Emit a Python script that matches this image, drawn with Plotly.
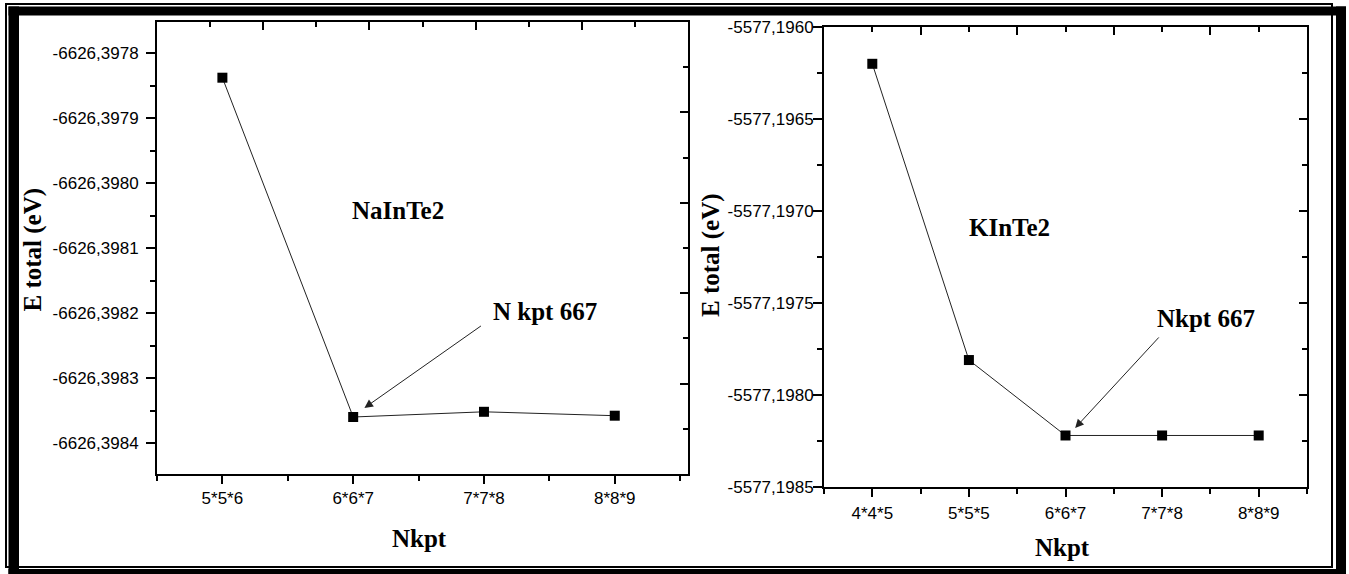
import plotly.graph_objects as go

W, H = 1349, 574

# ---------------- data ----------------
left_cats = ["5*5*6", "6*6*7", "7*7*8", "8*8*9"]
left_energy = [-6626.397838, -6626.398360, -6626.398352, -6626.398358]
left_ytick_labels = ["-6626,3978", "-6626,3979", "-6626,3980", "-6626,3981",
                     "-6626,3982", "-6626,3983", "-6626,3984"]

right_cats = ["4*4*5", "5*5*5", "6*6*7", "7*7*8", "8*8*9"]
right_energy = [-5577.196200, -5577.197810, -5577.198220, -5577.198220, -5577.198220]
right_ytick_labels = ["-5577,1960", "-5577,1965", "-5577,1970", "-5577,1975",
                      "-5577,1980", "-5577,1985"]


def px_x(p):
    return p / W


def px_y(p):
    return 1 - p / H


def vals(labels):
    return [float(s.replace(",", ".")) for s in labels]


def mids(v):
    return [(a + b) / 2 for a, b in zip(v[:-1], v[1:])]


TICKFONT = dict(family="Liberation Sans, Arial, sans-serif", size=17, color="#000")
TITLEFONT = dict(family="Liberation Serif, Times New Roman, serif", size=25, color="#000")
LINE = dict(showline=True, linecolor="#000", linewidth=2, mirror=True,
            showgrid=False, zeroline=False)

fig = go.Figure()

fig.add_trace(go.Scatter(
    x=list(range(len(left_cats))), y=left_energy, mode="lines+markers",
    line=dict(color="#222", width=1),
    marker=dict(symbol="square", size=10, color="#000"),
    xaxis="x", yaxis="y", showlegend=False, hoverinfo="skip"))
fig.add_trace(go.Scatter(
    x=list(range(len(right_cats))), y=right_energy, mode="lines+markers",
    line=dict(color="#222", width=1),
    marker=dict(symbol="square", size=10, color="#000"),
    xaxis="x2", yaxis="y2", showlegend=False, hoverinfo="skip"))
# empty traces to realise the overlay (top/right tick) axes
fig.add_trace(go.Scatter(x=[], y=[], xaxis="x3", yaxis="y3", showlegend=False, hoverinfo="skip"))
fig.add_trace(go.Scatter(x=[], y=[], xaxis="x4", yaxis="y4", showlegend=False, hoverinfo="skip"))

lv = vals(left_ytick_labels)
rv = vals(right_ytick_labels)

left_dom_x = [px_x(157), px_x(688)]
left_dom_y = [px_y(474), px_y(22)]
right_dom_x = [px_x(824), px_x(1307)]
right_dom_y = [px_y(487), px_y(27)]

overlay_common = dict(range=[0, 10], tickvals=[2, 4, 6, 8], ticks="inside", ticklen=8,
                      tickwidth=1.5, tickcolor="#000", showticklabels=False,
                      showgrid=False, zeroline=False, showline=False, fixedrange=True,
                      minor=dict(tickvals=[1, 3, 5, 7, 9], ticks="inside", ticklen=5,
                                 tickwidth=1.5, tickcolor="#000"))

fig.update_layout(
    width=W, height=H, template="none",
    margin=dict(l=0, r=0, t=0, b=0, pad=0),
    paper_bgcolor="white", plot_bgcolor="white",
    xaxis=dict(domain=left_dom_x, anchor="y", range=[-0.5, 3.56],
               tickvals=list(range(len(left_cats))), ticktext=left_cats,
               ticks="outside", ticklen=8, tickwidth=1.5, tickcolor="#000",
               tickfont=TICKFONT, automargin=False, ticklabelstandoff=0,
               minor=dict(tickvals=[i - 0.5 for i in range(len(left_cats) + 1)],
                          ticks="outside", ticklen=5, tickwidth=1.5, tickcolor="#000"),
               **LINE),
    yaxis=dict(domain=left_dom_y, anchor="x",
               range=[lv[-1] - 31 / 65 * 1e-4, lv[0] + 31 / 65 * 1e-4],
               tickvals=lv, ticktext=left_ytick_labels,
               ticks="outside", ticklen=9, tickwidth=1.5, tickcolor="#000",
               tickfont=TICKFONT, automargin=False, ticklabelstandoff=4,
               minor=dict(tickvals=mids(lv), ticks="outside", ticklen=5,
                          tickwidth=1.5, tickcolor="#000"),
               **LINE),
    xaxis2=dict(domain=right_dom_x, anchor="y2", range=[-0.5, 4.5],
                tickvals=list(range(len(right_cats))), ticktext=right_cats,
                ticks="outside", ticklen=8, tickwidth=1.5, tickcolor="#000",
                tickfont=TICKFONT, automargin=False, ticklabelstandoff=2,
                minor=dict(tickvals=[i - 0.5 for i in range(len(right_cats) + 1)],
                           ticks="outside", ticklen=5, tickwidth=1.5, tickcolor="#000"),
                **LINE),
    yaxis2=dict(domain=right_dom_y, anchor="x2", range=[rv[-1], rv[0]],
                tickvals=rv, ticktext=right_ytick_labels,
                ticks="outside", ticklen=9, tickwidth=1.5, tickcolor="#000",
                tickfont=TICKFONT, automargin=False, ticklabelstandoff=-4,
                minor=dict(tickvals=mids(rv), ticks="outside", ticklen=5,
                           tickwidth=1.5, tickcolor="#000"),
                **LINE),
    xaxis3=dict(overlaying="x", side="top", anchor="y", **overlay_common),
    yaxis3=dict(overlaying="y", side="right", anchor="x", **overlay_common),
    xaxis4=dict(overlaying="x2", side="top", anchor="y2", **overlay_common),
    yaxis4=dict(overlaying="y2", side="right", anchor="x2", **overlay_common),
)

ann = []
ann.append(dict(text="<b>E total (eV)</b>", xref="paper", yref="paper",
                x=px_x(32.5), y=px_y(250), textangle=-90, showarrow=False,
                font=TITLEFONT, xanchor="center", yanchor="middle"))
ann.append(dict(text="<b>E total (eV)</b>", xref="paper", yref="paper",
                x=px_x(711), y=px_y(255), textangle=-90, showarrow=False,
                font=TITLEFONT, xanchor="center", yanchor="middle"))
ann.append(dict(text="<b>Nkpt</b>", xref="paper", yref="paper",
                x=px_x(419), y=px_y(538), showarrow=False,
                font=TITLEFONT, xanchor="center", yanchor="middle"))
ann.append(dict(text="<b>Nkpt</b>", xref="paper", yref="paper",
                x=px_x(1062), y=px_y(547), showarrow=False,
                font=TITLEFONT, xanchor="center", yanchor="middle"))
ann.append(dict(text="<b>NaInTe2</b>", xref="x", yref="y", x=1.34, y=-6626.398042,
                showarrow=False, font=TITLEFONT, xanchor="center", yanchor="middle"))
ann.append(dict(text="<b>N kpt 667</b>", xref="x", yref="y", x=2.47, y=-6626.398197,
                showarrow=False, font=TITLEFONT, xanchor="center", yanchor="middle"))
ann.append(dict(text="<b>KInTe2</b>", xref="x2", yref="y2", x=1.42, y=-5577.197087,
                showarrow=False, font=TITLEFONT, xanchor="center", yanchor="middle"))
ann.append(dict(text="<b>Nkpt 667</b>", xref="x2", yref="y2", x=3.45, y=-5577.197582,
                showarrow=False, font=TITLEFONT, xanchor="center", yanchor="middle"))
ann.append(dict(text="", xref="x", yref="y", x=1.086, y=-6626.398346,
                ax=118, ay=-83, axref="pixel", ayref="pixel", showarrow=True,
                arrowhead=2, arrowsize=1.7, arrowwidth=1, arrowcolor="#222", standoff=0))
ann.append(dict(text="", xref="x2", yref="y2", x=2.10, y=-5577.198179,
                ax=85, ay=-92, axref="pixel", ayref="pixel", showarrow=True,
                arrowhead=2, arrowsize=1.7, arrowwidth=1, arrowcolor="#222", standoff=0))
fig.update_layout(annotations=ann)


def band(x0, y0, x1, y1):
    return dict(type="rect", xref="paper", yref="paper",
                x0=px_x(x0), x1=px_x(x1), y0=px_y(y1), y1=px_y(y0),
                line=dict(width=0), fillcolor="#000", layer="above")


shapes = [
    dict(type="rect", xref="paper", yref="paper",
         x0=px_x(6), x1=px_x(1332), y0=px_y(567), y1=px_y(4),
         line=dict(color="#000", width=2), fillcolor="rgba(0,0,0,0)", layer="above"),
    band(8.5, 6.5, 19, 574),      # left
    band(8.5, 6.5, 1346, 15.5),   # top
    band(1336, 6.5, 1346, 574),   # right
    band(8.5, 569, 1346, 574),    # bottom
]
fig.update_layout(shapes=shapes)

fig.write_html("out.html")
